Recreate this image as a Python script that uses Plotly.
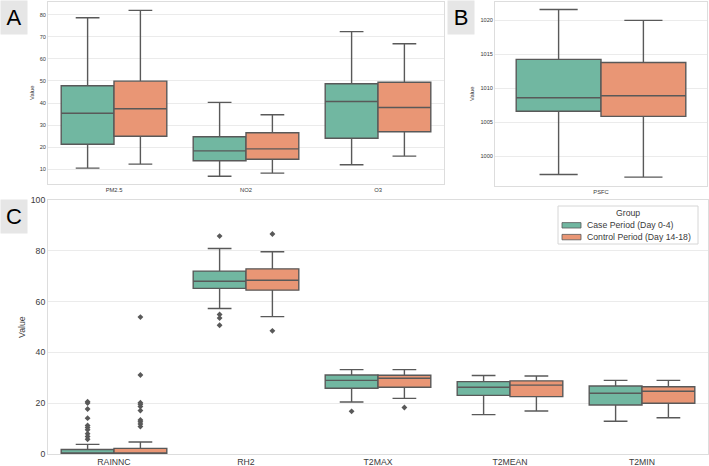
import plotly.graph_objects as go

W, H = 709, 466

groups = ["Case Period (Day 0-4)", "Control Period (Day 14-18)"]
fills = ["#71b7a1", "#e99675"]
edge = "#595959"

# Panel A
a_cats = ["PM2.5", "NO2", "O3"]
a_case_low = [10.6, 6.9, 12.1]
a_case_q1 = [21.4, 13.9, 24.1]
a_case_med = [35.4, 18.4, 40.7]
a_case_q3 = [47.8, 24.8, 48.7]
a_case_high = [78.6, 40.3, 72.3]
a_ctrl_low = [12.4, 8.3, 16.0]
a_ctrl_q1 = [25.0, 14.6, 27.0]
a_ctrl_med = [37.4, 19.3, 38.0]
a_ctrl_q3 = [49.9, 26.6, 49.4]
a_ctrl_high = [81.9, 34.7, 66.8]

# Panel B
b_cats = ["PSFC"]
b_case_low = [997.3]
b_case_q1 = [1006.6]
b_case_med = [1008.6]
b_case_q3 = [1014.25]
b_case_high = [1021.6]
b_ctrl_low = [996.9]
b_ctrl_q1 = [1005.85]
b_ctrl_med = [1008.9]
b_ctrl_q3 = [1013.8]
b_ctrl_high = [1020.0]

# Panel C
c_cats = ["RAINNC", "RH2", "T2MAX", "T2MEAN", "T2MIN"]
c_case_low = [0.0, 57.3, 20.5, 15.5, 12.9]
c_case_q1 = [0.0, 65.2, 25.9, 23.1, 19.3]
c_case_med = [0.0, 68.0, 29.0, 26.3, 23.9]
c_case_q3 = [1.8, 72.0, 31.1, 28.5, 26.8]
c_case_high = [3.8, 80.9, 33.2, 30.9, 29.0]
c_ctrl_low = [0.0, 54.1, 21.9, 16.9, 14.3]
c_ctrl_q1 = [0.0, 64.5, 26.3, 22.6, 20.0]
c_ctrl_med = [0.0, 68.4, 29.8, 27.1, 24.7]
c_ctrl_q3 = [2.2, 72.9, 31.0, 28.8, 26.5]
c_ctrl_high = [4.7, 79.6, 33.2, 30.7, 29.0]

# Outliers (category, value)
c_case_out_cat = ["RAINNC"] * 10 + ["RH2"] * 4 + ["T2MAX"]
c_case_out_val = [20.6, 20.1, 17.7, 14.1, 11.2, 10.4, 9.5, 8.0, 6.9, 5.8,
                  85.8, 54.9, 53.5, 50.7, 16.8]
c_ctrl_out_cat = ["RAINNC"] * 10 + ["RH2"] * 2 + ["T2MAX"]
c_ctrl_out_val = [53.9, 31.1, 20.2, 19.6, 18.7, 17.1, 13.4, 12.7, 11.8, 10.8,
                  86.6, 48.5, 18.3]

FONT = "Liberation Sans"

fig = go.Figure()

OFF = [-0.2, 0.2]


def add_boxes(cats, stats, xa, ya):
    for g, (low, q1, med, q3, high) in enumerate(stats):
        fig.add_trace(go.Box(
            x=[i + OFF[g] for i in range(len(cats))],
            lowerfence=low, q1=q1, median=med, q3=q3, upperfence=high,
            width=0.4, whiskerwidth=0.45, boxpoints=False,
            fillcolor=fills[g], line=dict(color=edge, width=1.4),
            name=groups[g], showlegend=False,
            xaxis=xa, yaxis=ya,
        ))


def add_outliers(cats, out_cat, out_val, g, xa, ya):
    fig.add_trace(go.Scatter(
        x=[cats.index(c) + OFF[g] for c in out_cat], y=out_val,
        mode="markers", marker=dict(symbol="diamond", size=4.5, color=edge),
        showlegend=False, hoverinfo="y", xaxis=xa, yaxis=ya,
    ))


add_boxes(a_cats, [(a_case_low, a_case_q1, a_case_med, a_case_q3, a_case_high),
                   (a_ctrl_low, a_ctrl_q1, a_ctrl_med, a_ctrl_q3, a_ctrl_high)],
          "x", "y")
add_boxes(b_cats, [(b_case_low, b_case_q1, b_case_med, b_case_q3, b_case_high),
                   (b_ctrl_low, b_ctrl_q1, b_ctrl_med, b_ctrl_q3, b_ctrl_high)],
          "x2", "y2")
add_boxes(c_cats, [(c_case_low, c_case_q1, c_case_med, c_case_q3, c_case_high),
                   (c_ctrl_low, c_ctrl_q1, c_ctrl_med, c_ctrl_q3, c_ctrl_high)],
          "x3", "y3")
add_outliers(c_cats, c_case_out_cat, c_case_out_val, 0, "x3", "y3")
add_outliers(c_cats, c_ctrl_out_cat, c_ctrl_out_val, 1, "x3", "y3")

txt = "#3a3a3a"
grid = "#ebebeb"
frame = "#dddddd"


def xax(domain, cats, size, anchor):
    return dict(domain=domain, range=[-0.5, len(cats) - 0.5],
                tickvals=list(range(len(cats))), ticktext=cats,
                showgrid=False, zeroline=False, showline=True, mirror=True,
                linecolor=frame, linewidth=1, ticks="",
                tickfont=dict(size=size, color=txt), automargin=False,
                anchor=anchor)


def yax(domain, rng, dtick, tick0, size, anchor):
    return dict(domain=domain, range=rng, dtick=dtick, tick0=tick0,
                showgrid=True, gridcolor=grid, zeroline=False, showline=True,
                mirror=True, linecolor=frame, linewidth=1, ticks="",
                tickfont=dict(size=size, color=txt), automargin=False,
                anchor=anchor)


def px_x(a, b):
    return [a / W, b / W]


def px_y(top, bottom):
    return [1 - bottom / H, 1 - top / H]


fig.update_layout(
    width=W, height=H,
    margin=dict(l=0, r=0, t=0, b=0),
    paper_bgcolor="white", plot_bgcolor="white",
    font=dict(family=FONT, color=txt),
    boxmode="overlay",
    showlegend=False,
    xaxis=xax(px_x(48, 444), a_cats, 5.8, "y"),
    yaxis=yax(px_y(2, 184), [3.4, 85.7], 10, 10, 5.6, "x"),
    xaxis2=xax(px_x(495, 707), b_cats, 5.8, "y2"),
    yaxis2=yax(px_y(2, 186), [995.6, 1022.7], 5, 1000, 5.6, "x2"),
    xaxis3=xax(px_x(48, 708), c_cats, 8.7, "y3"),
    yaxis3=yax(px_y(200, 454), [0, 100], 20, 0, 8.7, "x3"),
)

# y-axis titles
for x0, yc, size in [(32, 93, 5.8), (472, 94, 5.8), (22, 327, 8.7)]:
    fig.add_annotation(
        text="Value", xref="paper", yref="paper", x=x0 / W, y=1 - yc / H,
        xanchor="center", yanchor="middle", textangle=-90, showarrow=False,
        font=dict(family=FONT, size=size, color=txt),
    )

# Legend (compact, drawn in paper pixels)
LX0, LX1, LY0, LY1 = 558, 698, 206, 244
fig.add_shape(type="rect", xref="paper", yref="paper",
              x0=LX0 / W, x1=LX1 / W, y0=1 - LY1 / H, y1=1 - LY0 / H,
              line=dict(color="#d6d6d6", width=1), fillcolor="white", layer="above")
fig.add_annotation(text="Group", xref="paper", yref="paper",
                   x=(LX0 + LX1) / 2 / W, y=1 - 213 / H, xanchor="center",
                   yanchor="middle", showarrow=False,
                   font=dict(family=FONT, size=8.7, color=txt))
for g, name in enumerate(groups):
    yc = 225.3 + g * 11.8
    fig.add_shape(type="rect", xref="paper", yref="paper",
                  x0=562 / W, x1=581 / W, y0=1 - (yc + 2.7) / H, y1=1 - (yc - 2.7) / H,
                  line=dict(color=edge, width=0.8), fillcolor=fills[g], layer="above")
    fig.add_annotation(text=name, xref="paper", yref="paper",
                       x=585 / W, y=1 - yc / H, xanchor="left", yanchor="middle",
                       showarrow=False, font=dict(family=FONT, size=8.7, color=txt))

letter_font = dict(family=FONT, size=22, color="black")
for label, x0, y0 in [("A", 0, 0), ("B", 447, 0), ("C", 0, 199)]:
    fig.add_annotation(
        text=label, xref="paper", yref="paper",
        x=x0 / W, y=1 - y0 / H, xanchor="left", yanchor="top",
        showarrow=False, bgcolor="#e6e6e6", width=26, height=33,
        font=letter_font, borderpad=0,
    )

fig.write_html("out.html")
